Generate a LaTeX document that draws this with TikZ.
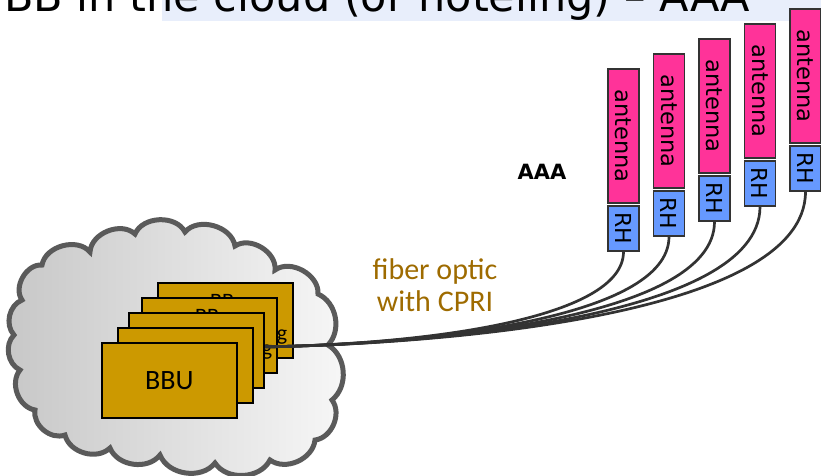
\documentclass[tikz,border=0pt]{standalone}
\usepackage{fontspec}
\setmainfont{DejaVu Sans}
\newfontfamily\carl{Carlito}
\usetikzlibrary{calc}
\definecolor{bandblue}{HTML}{E8EEFB}
\definecolor{gold}{HTML}{CC9900}
\definecolor{antpink}{HTML}{FF3399}
\definecolor{rhblue}{HTML}{6699FF}
\definecolor{fibertxt}{HTML}{9E6B00}
\definecolor{cable}{HTML}{333333}
\definecolor{cloudline}{HTML}{5A5A5A}
\tikzset{
  bbox/.style={draw=black, line width=1.6pt, fill=gold, minimum width=135pt, minimum height=75pt, anchor=north west, inner sep=0pt},
  antbox/.style={draw=black!80, line width=1.4pt, fill=antpink, rotate=-90, minimum width=134pt, minimum height=31pt, inner sep=0pt, font=\fontsize{22.5}{22.5}\selectfont},
  rhbox/.style={draw=black!80, line width=1.4pt, fill=rhblue, rotate=-90, minimum width=45pt, minimum height=31pt, inner sep=0pt, font=\fontsize{22}{22}\selectfont},
  fiber/.style={draw=cable, line width=2.7pt},
  frag/.style={inner sep=0pt, font=\carl\fontsize{22}{22}\selectfont}
}
\begin{document}
\begin{tikzpicture}[x=1pt,y=-1pt]
\useasboundingbox (0,0) rectangle (821,475);
\clip (0,0) rectangle (821,475);
% title band
\fill[bandblue] (162,0) rectangle (821,21);
\node[anchor=base west, inner sep=0pt, font=\fontsize{43}{43}\selectfont] (title) at (4,11) {BB in the cloud (or hoteling) – AAA};
% cloud
\path[draw=cloudline, line width=5pt, left color=black!22, right color=black!3]
  (22,300) to[bend left=65] (42,265) to[bend left=65] (90,252) to[bend left=65] (135,234)
  to[bend left=65] (185,232) to[bend left=65] (235,246) to[bend left=65] (275,270)
  to[bend left=65] (318,294) to[bend left=55] (328,345) to[bend left=55] (332,400)
  to[bend left=60] (315,440) to[bend left=60] (270,460) to[bend left=60] (215,463)
  to[bend left=60] (160,455) to[bend left=60] (110,448) to[bend left=60] (65,435)
  to[bend left=60] (35,410) to[bend left=60] (20,370) to[bend left=55] (14,335)
  to[bend left=55] cycle;
% back boxes
\node[bbox] (b5) at (157,282) {};
\node[frag, anchor=north] (b5t) at (222,294.5) {BB};
\node[frag] (b5g) at (282,337) {g};
\node[bbox] (b4) at (141,297) {};
\node[frag, anchor=north] (b4t) at (207,309.5) {BB};
\node[frag] (b4g) at (267,352) {g};
% cable start
\coordinate (cs) at (255,347);
% antennas, remote heads and cables
\foreach \i in {0,...,4}{
  \pgfmathsetmacro{\ax}{608+45.5*\i+15.5}
  \pgfmathsetmacro{\ay}{69-15*\i}
  \node[antbox] (a\i) at (\ax,\ay+67) {antenna};
  \node[rhbox] (r\i) at (\ax,\ay+159.5) {RH};
  \draw[fiber] (cs) .. controls (420,345) and ($(r\i.east |- 0,320)$) .. (r\i.east);
}
% front boxes
\node[bbox] (b3) at (128,312) {};
\node[bbox] (b2) at (117,327) {};
\node[bbox, font=\carl\fontsize{28}{28}\selectfont] (b1) at (101,342) {BBU};
% labels
\node[font=\fontsize{21}{21}\selectfont\bfseries] (aaa) at (542,172) {AAA};
\node[align=center, text=fibertxt, font=\carl\fontsize{30}{32}\selectfont] (lbl) at (435,285) {fiber optic\\with CPRI};
\end{tikzpicture}
\end{document}
